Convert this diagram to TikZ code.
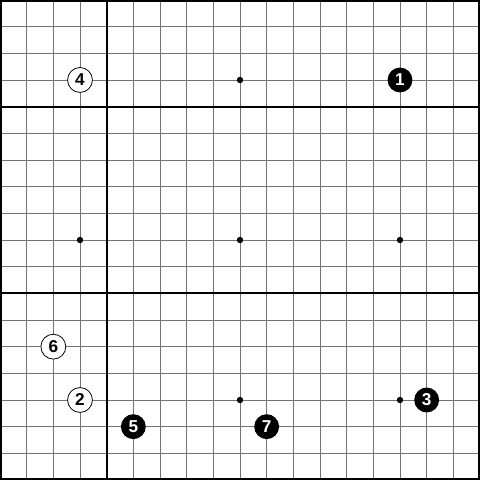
\documentclass[tikz,border=0pt]{standalone}
\usepackage{fontspec}
\setmainfont{Liberation Sans}
\tikzset{
  stone/.style = {circle, inner sep = 0pt, minimum size = 0.56cm, font = \fontsize{11}{11}\selectfont\bfseries},
  blackstone/.style = {stone, fill = black, text = white},
  whitestone/.style = {stone, draw = black, line width = 0.5pt, fill = white, text = black}
}
\begin{document}
\begin{tikzpicture}[x=0.6cm, y=0.6cm]
\pgfmathsetmacro\n{18};
\useasboundingbox (0,0) rectangle (\n,\n);
\clip (0,0) rectangle (\n,\n);
\fill [white] (0,0) rectangle (\n,\n);
% grid
\foreach \i in {1,...,17} \draw [color = black!55, line width = 0.6pt] (\i,0) -- (\i,\n);
\foreach \i in {1,...,17} \draw [color = black!55, line width = 0.6pt] (0,\i) -- (\n,\i);
\draw [line width = 1.2pt] (4,0) -- (4,\n);
\draw [line width = 1.2pt] (0,14) -- (\n,14);
\draw [line width = 1.2pt] (0,7) -- (\n,7);
\draw [line width = 2.6pt] (0,0) rectangle (\n,\n);
% star points
\foreach \x in {3,9,15} \foreach \y in {3,9,15} \fill (\x,\y) circle (0.12);
% stones
\node [blackstone] (m1) at (15,15) {1};
\node [whitestone] (m2) at (3,3) {2};
\node [blackstone] (m3) at (16,3) {3};
\node [whitestone] (m4) at (3,15) {4};
\node [blackstone] (m5) at (5,2) {5};
\node [whitestone] (m6) at (2,5) {6};
\node [blackstone] (m7) at (10,2) {7};
\end{tikzpicture}
\end{document}
